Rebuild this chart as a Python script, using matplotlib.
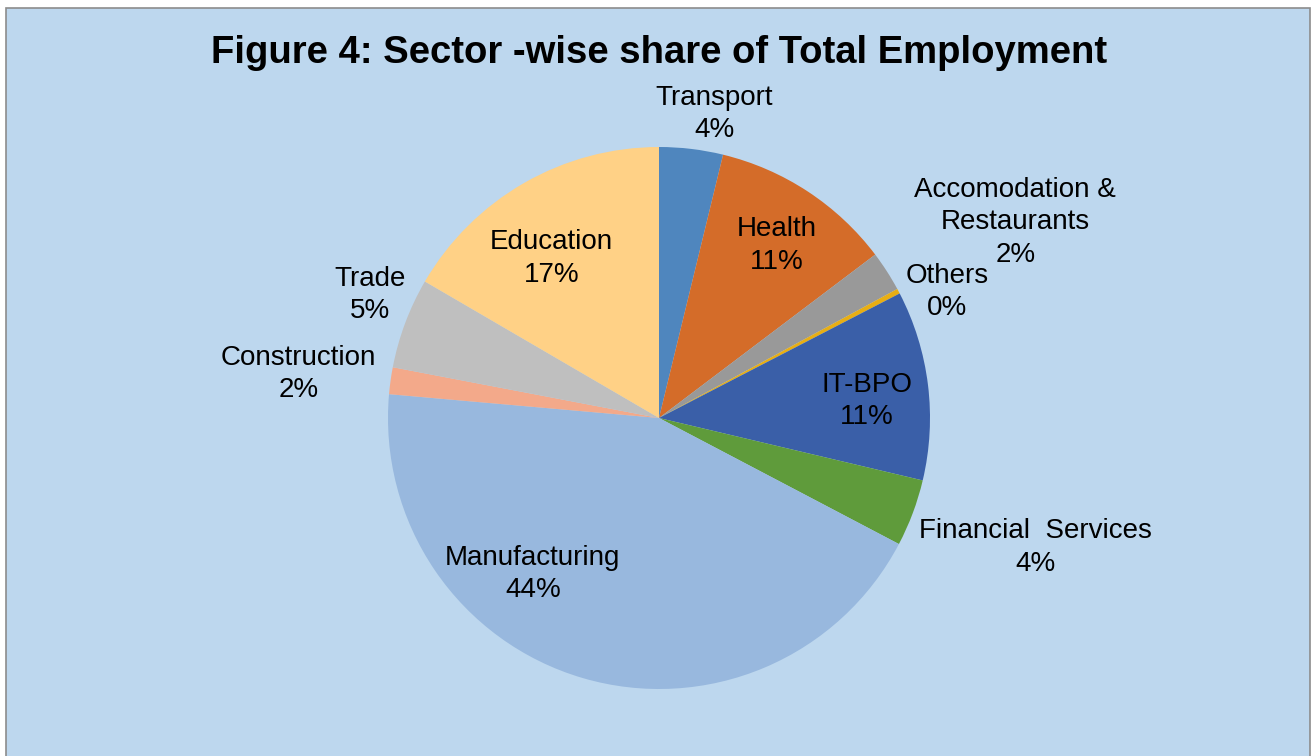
import matplotlib
matplotlib.use("Agg")
from matplotlib import pyplot as plt
from matplotlib.patches import Rectangle
import numpy as np

plt.rcParams['font.family'] = ['Liberation Sans', 'DejaVu Sans']

sectors = ["Transport", "Health", "Accomodation &\nRestaurants", "Others", "IT-BPO",
           "Financial  Services", "Manufacturing", "Construction", "Trade", "Education"]
shares = [3.8, 10.9, 2.4, 0.3, 11.3, 4.0, 43.7, 1.6, 5.4, 16.6]
pct_labels = ["4%", "11%", "2%", "0%", "11%", "4%", "44%", "2%", "5%", "17%"]

colors = ["#4F86BE", "#D46C29", "#999999", "#E8AE14", "#3A5FA8",
          "#5F9B3B", "#98B8DE", "#F3A98A", "#BFBFBF", "#FFD186"]

# label placement: radius (in pie radii) and angle clockwise from top, degrees
label_r = [1.14, 0.77, 1.50, 1.16, 0.77, 1.47, 0.74, 1.34, 1.16, 0.71]
label_ang = [10.3, 34.2, 61.2, 66.4, 85.3, 109.0, 219.0, 277.0, 293.0, 326.0]

W, H = 1311, 756
fig = plt.figure(figsize=(W/100, H/100), dpi=100)
fig.patch.set_facecolor("white")
fig.patches.append(Rectangle((6/W, -0.05), (W-7)/W, 1.05 - 8/H, transform=fig.transFigure,
                             facecolor="#BDD7EE", edgecolor="#8C8C8C", lw=1.2, zorder=-1))

cx, cy, r = 659, 418, 271
ax = fig.add_axes([(cx-r)/W, (H-cy-r)/H, 2*r/W, 2*r/H])
ax.set_facecolor("none")
ax.pie(shares, colors=colors, startangle=90, counterclock=False, radius=1,
       wedgeprops=dict(linewidth=0.6, edgecolor="none"))
ax.set_xlim(-1, 1)
ax.set_ylim(-1, 1)
ax.axis("off")

for name, p, d, a in zip(sectors, pct_labels, label_r, label_ang):
    t = np.deg2rad(a)
    ax.text(d*np.sin(t), d*np.cos(t), name + "\n" + p, ha="center", va="center",
            fontsize=20, color="black", linespacing=1.32)

fig.text(659/W, 1 - 53/H, "Figure 4: Sector -wise share of Total Employment",
         ha="center", va="center", fontsize=27.5, fontweight="bold")

fig.savefig("out.png", dpi=100)
